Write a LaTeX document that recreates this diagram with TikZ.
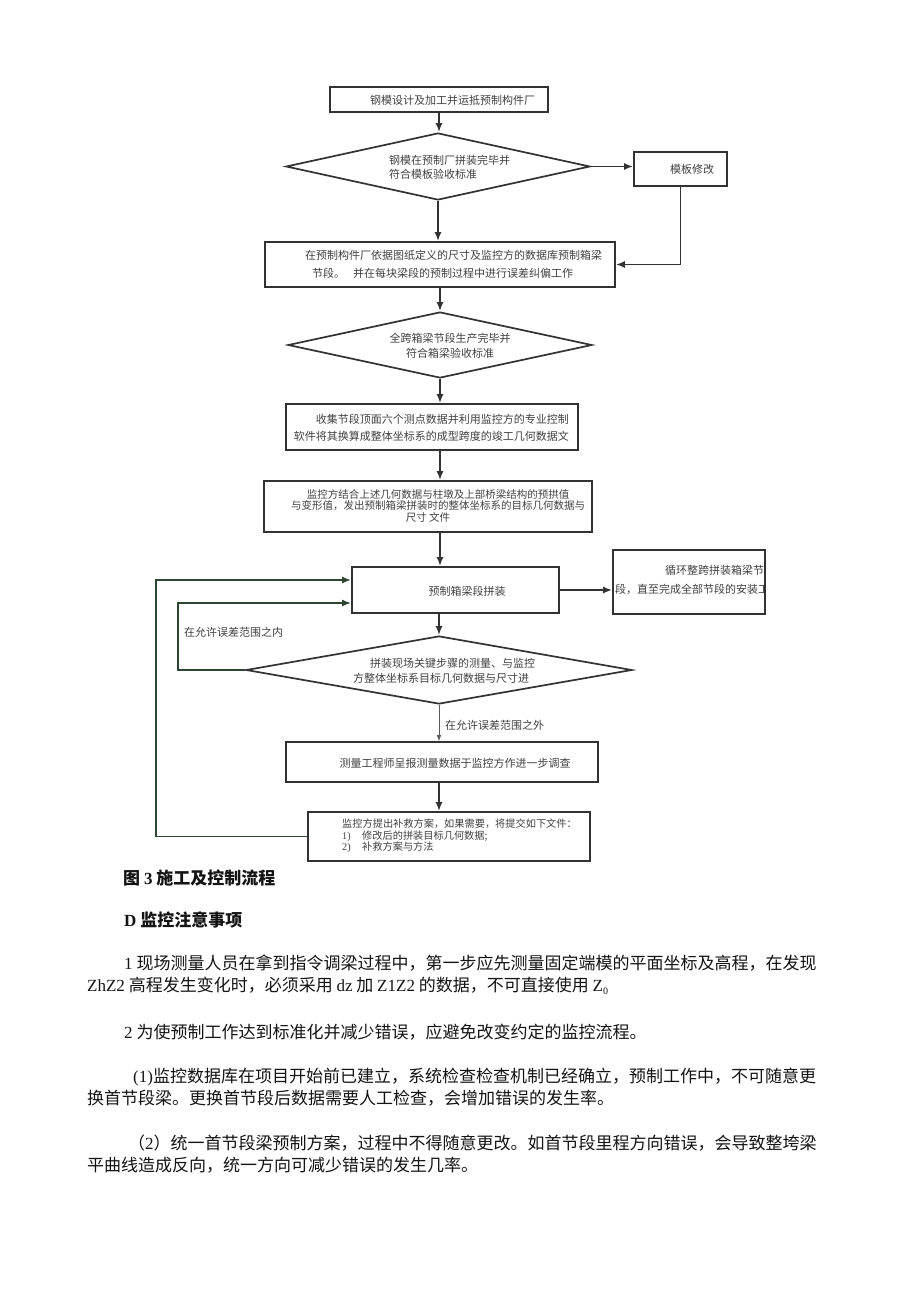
\documentclass[tikz,border=0pt]{standalone}
\usepackage{fontspec}
\setmainfont{Noto Sans CJK SC}
\newfontfamily\latf{Liberation Serif}
\usetikzlibrary{arrows.meta,shapes.geometric,calc}
\definecolor{linec}{RGB}{50,50,50}
\definecolor{ftc}{RGB}{65,65,65}
\definecolor{loopc}{RGB}{45,70,50}
\definecolor{bodyc}{RGB}{20,20,20}
\newcommand\flfont{\fontsize{11}{14}\selectfont}
\newcommand\bodyfont{\fontsize{17}{20}\selectfont}
\newcommand\lat[1]{{\latf #1}}
\begin{document}
\begin{tikzpicture}[x=1pt,y=-1pt,
 box/.style={draw=linec,line width=1.7pt,rectangle,inner sep=0pt},
 dia/.style={draw=linec,line width=1.7pt,diamond,inner sep=0pt},
 ftxt/.style={inner sep=0pt,text=ftc,font=\flfont},
 arr/.style={draw=linec,line width=1.8pt,-{Latex[length=9pt,width=7pt]}},
 thinarr/.style={draw=linec!80,line width=0.7pt,-{Latex[length=6pt,width=4.5pt]}},
 looparr/.style={draw=loopc,line width=1.8pt,-{Latex[length=9pt,width=7pt]}},
 body/.style={inner sep=0pt,anchor=west,text=bodyc,font=\bodyfont},
]
\fill[white] (0,0) rectangle (920,1301);
\useasboundingbox (0,0) rectangle (920,1301);

% flowchart
\node[box,minimum width=218pt,minimum height=25pt] (b1) at (439,99.5) {};
\node[ftxt] (t1) at (452.5,100) {钢模设计及加工并运抵预制构件厂};

\node[dia,minimum width=304pt,minimum height=67pt] (d1) at (438,166.5) {};
\node[ftxt,align=left,anchor=west] (t2) at (389,167) {钢模在预制厂拼装完毕并\\符合模板验收标准};

\node[box,minimum width=93pt,minimum height=34pt] (m) at (680.5,169) {};
\node[ftxt] (tm) at (692,169) {模板修改};

\node[box,minimum width=350pt,minimum height=45pt] (b3) at (440,264.5) {};
\node[ftxt,align=left,anchor=west,font=\fontsize{11}{18}\selectfont] (t3) at (305,264) {在预制构件厂依据图纸定义的尺寸及监控方的数据库预制箱梁\\\hspace*{7pt}节段。\hspace{8pt}并在每块梁段的预制过程中进行误差纠偏工作};

\node[dia,minimum width=304pt,minimum height=66pt] (d2) at (440,345) {};
\node[ftxt,align=center,font=\fontsize{11}{15}\selectfont] (t4) at (450,345.5) {全跨箱梁节段生产完毕并\\符合箱梁验收标准};

\node[box,minimum width=292pt,minimum height=46pt] (b4) at (432,427) {};
\node[ftxt,align=right,anchor=east,font=\fontsize{11}{17}\selectfont] (t5) at (569,427.5) {收集节段顶面六个测点数据并利用监控方的专业控制\\软件将其换算成整体坐标系的成型跨度的竣工几何数据文};

\node[box,minimum width=328pt,minimum height=51pt] (b5) at (428,506.5) {};
\node[ftxt,align=center,font=\fontsize{10.5}{11.5}\selectfont] (t6) at (438,505.5) {监控方结合上述几何数据与柱墩及上部桥梁结构的预拱值\\与变形值，发出预制箱梁拼装时的整体坐标系的目标几何数据与\\尺寸 文件\hspace*{20pt}};

\node[box,minimum width=207pt,minimum height=46pt] (b6) at (455.5,590) {};
\node[ftxt] (t7) at (467,591) {预制箱梁段拼装};

\begin{scope}
\clip (613,550) rectangle (765,614);
\node[ftxt,anchor=west] (t8a) at (665,570) {循环整跨拼装箱梁节};
\node[ftxt,anchor=west] (t8b) at (615,589) {段，直至完成全部节段的安装工};
\end{scope}
\node[box,minimum width=152pt,minimum height=64pt] (b7) at (689,582) {};

\node[dia,minimum width=386pt,minimum height=68pt] (d3) at (439,670) {};
\node[ftxt,align=left,anchor=west,font=\fontsize{11}{15}\selectfont] (t9) at (353,670.5) {\hspace*{17pt}拼装现场关键步骤的测量、与监控\\方整体坐标系目标几何数据与尺寸进};

\node[ftxt,anchor=west] (l1) at (184,632) {在允许误差范围之内};
\node[ftxt,anchor=west] (l2) at (445,725) {在允许误差范围之外};

\node[box,minimum width=312pt,minimum height=40pt] (b8) at (442,762) {};
\node[ftxt] (t10) at (455,763) {测量工程师呈报测量数据于监控方作进一步调查};

\node[box,minimum width=282pt,minimum height=49pt] (b9) at (449,836.5) {};
\node[ftxt,align=left,anchor=west,font=\fontsize{10.2}{11.5}\selectfont] (t11) at (342,836) {监控方提出补救方案，如果需要，将提交如下文件：\\\makebox[20pt][l]{\lat{1)}}修改后的拼装目标几何数据;\\\makebox[20pt][l]{\lat{2)}}补救方案与方法};

% connectors
\draw[arr] (b1.south) -- (b1.south |- d1.north);
\draw[arr] (d1.south) -- (d1.south |- b3.north);
\draw[arr] (d1.east) -- (d1.east -| m.west);
\draw[arr] (m.south) |- (b3.east);
\draw[arr] (d2.north |- b3.south) -- (d2.north);
\draw[arr] (d2.south) -- (d2.south |- b4.north);
\draw[arr] (d2.south |- b4.south) -- (d2.south |- b5.north);
\draw[arr] (d2.south |- b5.south) -- (d2.south |- b6.north);
\draw[arr] (d3.north |- b6.south) -- (d3.north);
\draw[thinarr] (d3.south) -- (d3.south |- b8.north);
\draw[arr] (d3.south |- b8.south) -- (d3.south |- b9.north);
\draw[arr] (b6.east) -- (b6.east -| b7.west);
\coordinate (inx) at (178,671);
\coordinate (outx) at (156,835);
\draw[looparr] (d3.west) -- (d3.west -| inx) |- ($(b6.west)+(0,13)$);
\draw[looparr] (b9.west) -- (b9.west -| outx) |- ($(b6.west)+(0,-10)$);

% text below
\node[body,font=\fontsize{17}{20}\selectfont\bfseries] (cap) at (123,878) {图 \lat{3} 施工及控制流程};
\node[body,font=\fontsize{17}{20}\selectfont\bfseries] (hd) at (124,920) {\lat{D} 监控注意事项};
\node[body] (p1a) at (124,963) {\lat{1} 现场测量人员在拿到指令调梁过程中，第一步应先测量固定端模的平面坐标及高程，在发现};
\node[body] (p1b) at (87,986) {\lat{ZhZ2} 高程发生变化时，必须采用 \lat{dz} 加 \lat{Z1Z2} 的数据，不可直接使用 \lat{Z\raisebox{-0.35ex}{\fontsize{10}{10}\selectfont 0}}};
\node[body] (p2) at (124,1032) {\lat{2} 为使预制工作达到标准化并减少错误，应避免改变约定的监控流程。};
\node[body] (p3a) at (133,1077) {\lat{(1)}监控数据库在项目开始前已建立，系统检查检查机制已经确立，预制工作中，不可随意更};
\node[body] (p3b) at (87,1098) {换首节段梁。更换首节段后数据需要人工检查，会增加错误的发生率。};
\node[body] (p4a) at (128,1143) {（\lat{2}）统一首节段梁预制方案，过程中不得随意更改。如首节段里程方向错误，会导致整垮梁};
\node[body] (p4b) at (87,1165) {平曲线造成反向，统一方向可减少错误的发生几率。};
\end{tikzpicture}
\end{document}
